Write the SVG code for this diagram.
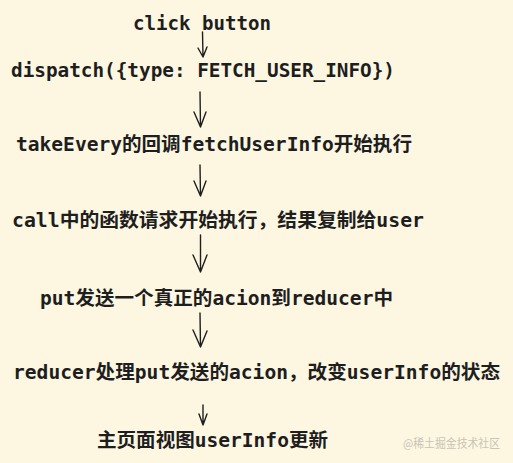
<svg xmlns="http://www.w3.org/2000/svg" width="513" height="463" viewBox="0 0 513 463">
<style>
.t{font-family:"DejaVu Sans Mono","Liberation Mono","Noto Sans CJK SC",monospace;font-weight:bold;font-size:19px;fill:#1e1e1e}
.a{fill:none;stroke:#1e1e1e;stroke-width:1.4;stroke-linecap:round;stroke-linejoin:round}
.wm{font-family:"Noto Sans CJK SC","Noto Sans",sans-serif;font-size:12px;fill:#c9c4b4}
</style>
<rect width="513" height="463" fill="#fdf7e2"/>
<g id="connectors">
<path class="a" d="M202.5 32 L203 57 M198 48 L203 57 L207 47"/>
<path class="a" d="M200 92 L200.5 127 M194 112 L200.5 127 L206 112"/>
<path class="a" d="M200 165 L200.5 196 M194 181 L200.5 196 L206 181"/>
<path class="a" d="M200.5 235 L200.5 272 M193 255 L200.5 272 L207 255"/>
<path class="a" d="M200 313 L200.5 347 M193 330 L200.5 347 L207 331"/>
<path class="a" d="M203 405 L203 425 M199 414 L203 425 L207 414"/>
</g>
<g id="n1"><text class="t" x="133" y="30" textLength="138" lengthAdjust="spacingAndGlyphs">click button</text></g>
<g id="n2"><text class="t" x="11" y="77" textLength="384" lengthAdjust="spacingAndGlyphs">dispatch({type: FETCH_USER_INFO})</text></g>
<g id="n3"><text class="t" x="16" y="151" textLength="396" lengthAdjust="spacingAndGlyphs">takeEvery的回调fetchUserInfo开始执行</text></g>
<g id="n4"><text class="t" x="12" y="227" textLength="412" lengthAdjust="spacingAndGlyphs">call中的函数请求开始执行，结果复制给user</text></g>
<g id="n5"><text class="t" x="40" y="305" textLength="353" lengthAdjust="spacingAndGlyphs">put发送一个真正的acion到reducer中</text></g>
<g id="n6"><text class="t" x="13" y="379" textLength="487" lengthAdjust="spacingAndGlyphs">reducer处理put发送的acion，改变userInfo的状态</text></g>
<g id="n7"><text class="t" x="97" y="447" textLength="231" lengthAdjust="spacingAndGlyphs">主页面视图userInfo更新</text></g>
<text class="wm" x="403" y="448" textLength="97" lengthAdjust="spacingAndGlyphs">@稀土掘金技术社区</text>
</svg>
